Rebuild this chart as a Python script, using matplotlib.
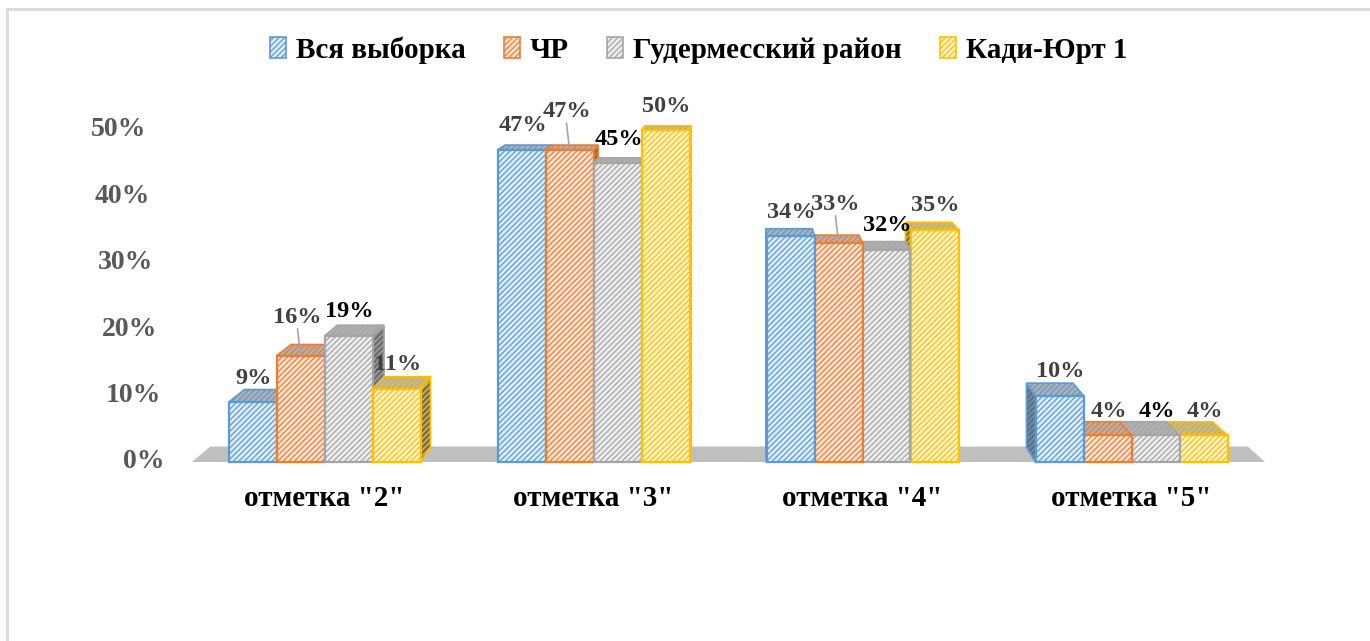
import matplotlib.pyplot as plt
import numpy as np
from matplotlib.patches import Patch, Polygon, Rectangle

plt.rcParams['font.family'] = ['Liberation Serif', 'DejaVu Serif']
plt.rcParams['font.weight'] = 'bold'
plt.rcParams['hatch.linewidth'] = 0.9

categories = ['отметка "2"', 'отметка "3"', 'отметка "4"', 'отметка "5"']
series = ['Вся выборка', 'ЧР', 'Гудермесский район', 'Кади-Юрт 1']
values = {
    'Вся выборка':        [9, 47, 34, 10],
    'ЧР':                 [16, 47, 33, 4],
    'Гудермесский район': [19, 45, 32, 4],
    'Кади-Юрт 1':         [11, 50, 35, 4],
}
y_ticks = [0, 10, 20, 30, 40, 50]

edge_colors = ['#5B9BD5', '#ED7D31', '#A5A5A5', '#FFC000']
face_colors = ['#DDEBF7', '#FBE4D5', '#EDEDED', '#FFF2CC']
label_colors = ['#404040', '#404040', '#000000', '#404040']

W, H = 13.7, 6.41
fig = plt.figure(figsize=(W, H), dpi=100)

# axes span the full width; 1 category = 269 px, 1% = 6.64 px
px_per_cat = 269.0
px_per_pct = 6.64
x0_px, y0_px = 324.5, 462.0
ymin, ymax = -3, 60
ax_bottom = (641 - (y0_px - ymin * px_per_pct)) / 641
ax_height = (ymax - ymin) * px_per_pct / 641
ax = fig.add_axes([0, ax_bottom, 1, ax_height])
ax.set_xlim(-x0_px / px_per_cat, (1370 - x0_px) / px_per_cat)
ax.set_ylim(ymin, ymax)
ax.axis('off')


def px2data(px, py):
    return (px - x0_px) / px_per_cat, (y0_px - py) / px_per_pct


# vanishing point of the pseudo-3D depth
vx, vy = px2data(745, -7)
bar_depth = 0.031
floor_depth = 0.033


def back(x, y, f):
    return x + f * (vx - x), y + f * (vy - y)


# floor
fl, fr = px2data(192, 462)[0], px2data(1265, 462)[0]
floor = [(fl, 0), (fr, 0), back(fr, 0, floor_depth), back(fl, 0, floor_depth)]
ax.add_patch(Polygon(floor, closed=True, facecolor='#BFBFBF', edgecolor='none', zorder=1))

bw = 48 / px_per_cat
offsets = (np.arange(len(series)) - 1.5) * bw
hatch = '//////'

bars = []
for si, name in enumerate(series):
    for ci, v in enumerate(values[name]):
        left = ci + offsets[si] - bw / 2
        bars.append((left, v, si))

# paint bars far from the vanishing point first
bars.sort(key=lambda b: -abs(b[0] + bw / 2 - vx))
for z, (left, v, si) in enumerate(bars):
    right = left + bw
    ec, fc = edge_colors[si], face_colors[si]
    zb = 2 + z * 0.01
    # side face
    if vx > left + bw / 2:
        side = [(right, 0), (right, v), back(right, v, bar_depth), back(right, 0, bar_depth)]
    else:
        side = [(left, 0), (left, v), back(left, v, bar_depth), back(left, 0, bar_depth)]
    ax.add_patch(Polygon(side, closed=True, facecolor='#6E6E6E', edgecolor=ec,
                         hatch=hatch, lw=1.2, zorder=zb))
    top = [(left, v), (right, v), back(right, v, bar_depth), back(left, v, bar_depth)]
    ax.add_patch(Polygon(top, closed=True, facecolor='#B0B0B0', edgecolor=ec,
                         hatch=hatch, lw=1.2, zorder=zb))
    ax.add_patch(Rectangle((left, 0), bw, v, facecolor=fc, edgecolor=ec,
                           hatch=hatch, lw=1.6, zorder=zb + 0.005))

# data labels; the ЧР labels sit higher with leader lines on the taller bars
for si, name in enumerate(series):
    for ci, v in enumerate(values[name]):
        cx = ci + offsets[si]
        lift, dx = 24, 1
        if si == 1 and v > 10:
            lift, dx = 38, -3
            ax.annotate('', xy=(cx, v), xytext=(dx, lift - 11), textcoords='offset pixels',
                        arrowprops=dict(arrowstyle='-', color='#A6A6A6', lw=1.2,
                                        shrinkA=0, shrinkB=0), zorder=5)
        ax.annotate(f'{v}%', xy=(cx, v), xytext=(dx, lift), textcoords='offset pixels',
                    ha='center', va='center', fontsize=17.5, color=label_colors[si],
                    annotation_clip=False, zorder=6)

# value axis labels
for t in y_ticks:
    px = 146 + 19 * (1 - t / 50)
    ax.text(px2data(px, 0)[0], t, f'{t}%', ha='right', va='center',
            fontsize=20, color='#595959')

for ci, cat in enumerate(categories):
    ax.text(ci, px2data(0, 498)[1], cat, ha='center', va='center',
            fontsize=21, color='#000000')

handles = [Patch(facecolor=face_colors[i], edgecolor=edge_colors[i], hatch=hatch, lw=1.2)
           for i in range(len(series))]
fig.legend(handles, series, loc='center', bbox_to_anchor=(0.51, 1 - 50 / 641), ncol=4,
           frameon=False, fontsize=21, handlelength=0.55, handleheight=0.7,
           handletextpad=0.35, columnspacing=1.3)

# chart area border
fig.add_artist(Rectangle((7 / 1370, -0.01), 1.1, 1 - 9 / 641 + 0.01,
                         transform=fig.transFigure, fill=False, edgecolor='#D9D9D9', lw=2))

fig.savefig('out.png', dpi=100)
